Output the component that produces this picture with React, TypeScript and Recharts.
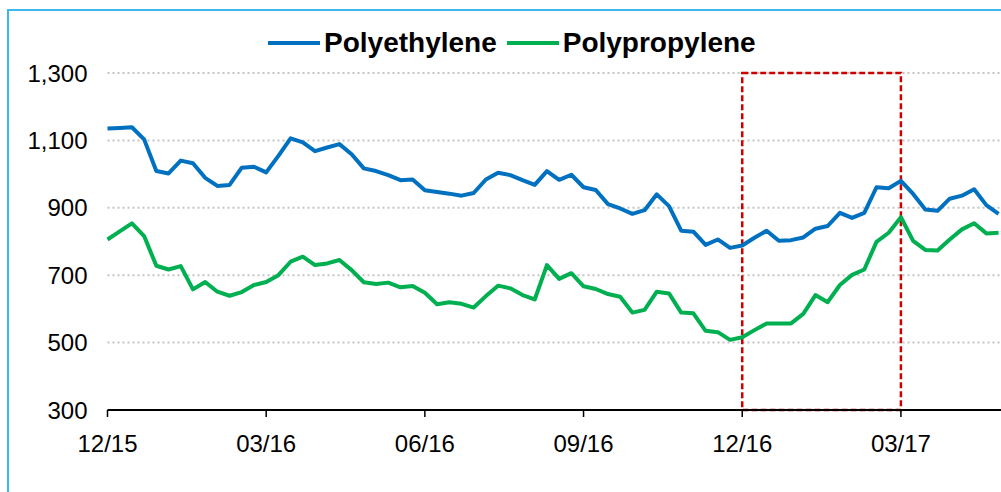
import { LineChart, Line, XAxis, YAxis, CartesianGrid, ReferenceArea } from 'recharts';

// weekly prices, Dec 2015 .. May 2017
const polyethylene = [
  1135, 1137, 1139, 1103, 1009, 1002, 1040, 1032, 989, 965, 968, 1019, 1022,
  1005, 1054, 1106, 1094, 1068, 1079, 1089, 1059, 1017, 1009, 997, 982, 984,
  952, 947, 942, 936, 944, 984, 1004, 997, 982, 968, 1009, 983, 998,
  961, 953, 911, 898, 882, 893, 940, 905, 832, 829, 790, 806, 781,
  788, 811, 832, 802, 804, 812, 838, 846, 885, 870, 885, 961, 958,
  980, 941, 895, 891, 927, 936, 955, 908, 882,
];

const polypropylene = [
  806, 830, 854, 816, 728, 717, 727, 658, 680, 651, 639, 650, 671,
  680, 700, 740, 755, 730, 735, 745, 715, 679, 674, 678, 664, 668,
  648, 614, 620, 615, 604, 638, 669, 661, 641, 628, 730, 689, 706,
  667, 659, 644, 636, 589, 597, 651, 646, 589, 587, 535, 531, 508,
  516, 537, 557, 557, 557, 585, 641, 620, 671, 701, 717, 799, 826,
  872, 802, 775, 773, 806, 836, 854, 824, 826,
];

const tickWeeks = [0, 13, 26, 39, 52, 65];
const tickLabels = ['12/15', '03/16', '06/16', '09/16', '12/16', '03/17'];
const yTicks = [300, 500, 700, 900, 1100, 1300];

// highlighted period: 12/16 .. 03/17
const highlightFrom = 52;
const highlightTo = 65;

const data = polyethylene.map((pe, i) => ({
  week: i,
  Polyethylene: pe,
  Polypropylene: polypropylene[i],
}));

const BLUE = '#0070c0';
const GREEN = '#00b050';
const FONT = '"Liberation Sans", Arial, sans-serif';

const labelFor = (w: number) => {
  const i = tickWeeks.indexOf(w);
  return i >= 0 ? tickLabels[i] : '';
};

function LegendItem({ color, label }: { color: string; label: string }) {
  return (
    <div style={{ display: 'flex', alignItems: 'center' }}>
      <div style={{ width: 52, height: 4, background: color, marginRight: 4 }} />
      <span style={{ fontWeight: 700, fontSize: 28, lineHeight: '32px' }}>{label}</span>
    </div>
  );
}

export default function App() {
  return (
    <div
      style={{
        position: 'fixed',
        left: 0,
        top: 0,
        width: 1001,
        height: 492,
        background: '#fff',
        overflow: 'hidden',
        fontFamily: FONT,
        color: '#000',
      }}
    >
      {/* light blue frame, only top and left edges fall inside the picture */}
      <div
        style={{
          position: 'absolute',
          left: 7,
          top: 9,
          width: 1200,
          height: 700,
          borderTop: '2px solid #3db8ef',
          borderLeft: '2px solid #3db8ef',
        }}
      />

      <div
        style={{
          position: 'absolute',
          left: 268,
          top: 27,
          height: 32,
          display: 'flex',
          alignItems: 'center',
          gap: 10,
          whiteSpace: 'nowrap',
        }}
      >
        <LegendItem color={BLUE} label="Polyethylene" />
        <LegendItem color={GREEN} label="Polypropylene" />
      </div>

      <div style={{ position: 'absolute', left: 0, top: 0 }}>
        <LineChart
          width={1001}
          height={492}
          data={data}
          margin={{ top: 73, right: 0, left: 27.5, bottom: 52 }}
        >
          <CartesianGrid
            vertical={false}
            stroke="#c4c4c4"
            strokeDasharray="2 3"
            strokeWidth={2}
          />
          <XAxis
            dataKey="week"
            type="number"
            domain={[0, 73.2]}
            ticks={tickWeeks}
            tickFormatter={labelFor}
            interval={0}
            axisLine={{ stroke: '#000', strokeWidth: 2 }}
            tickLine={{ stroke: '#000', strokeWidth: 1.5 }}
            tickSize={7}
            tickMargin={18}
            tick={{ fill: '#000', fontSize: 24, fontFamily: FONT }}
            height={30}
          />
          <YAxis
            domain={[300, 1300]}
            ticks={yTicks}
            tickFormatter={(v: number) => v.toLocaleString('en-US')}
            axisLine={false}
            tickLine={false}
            tickMargin={14}
            width={80}
            tick={{ fill: '#000', fontSize: 24, fontFamily: FONT }}
          />
          <Line
            dataKey="Polyethylene"
            stroke={BLUE}
            strokeWidth={4}
            dot={false}
            strokeLinejoin="round"
            isAnimationActive={false}
          />
          <Line
            dataKey="Polypropylene"
            stroke={GREEN}
            strokeWidth={4}
            dot={false}
            strokeLinejoin="round"
            isAnimationActive={false}
          />
          <ReferenceArea
            x1={highlightFrom}
            x2={highlightTo}
            y1={300}
            y2={1300}
            fill="none"
            fillOpacity={0}
            stroke="#cc0000"
            strokeWidth={2.5}
            strokeDasharray="6 3"
          />
        </LineChart>
      </div>
    </div>
  );
}
